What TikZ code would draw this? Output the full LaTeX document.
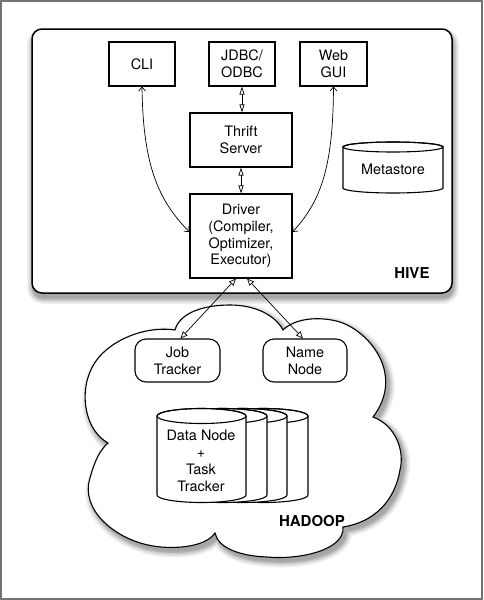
\documentclass[tikz,border=0pt]{standalone}
\usepackage{fontspec}
\setmainfont{TeX Gyre Heros}
\usetikzlibrary{arrows.meta}
\newcommand\mycyl[5]{%
  \pgfmathsetmacro\cx{(#1+#2)/2}\pgfmathsetmacro\rx{(#2-#1)/2}%
  \filldraw[fill=white, line width=1.1pt] (#1,#3) -- (#1,#4)
    .. controls (#1,#4+0.5523*#5) and (\cx-0.5523*\rx,#4+#5) .. (\cx,#4+#5)
    .. controls (\cx+0.5523*\rx,#4+#5) and (#2,#4+0.5523*#5) .. (#2,#4)
    -- (#2,#3)
    .. controls (#2,#3-0.5523*#5) and (\cx+0.5523*\rx,#3-#5) .. (\cx,#3-#5)
    .. controls (\cx-0.5523*\rx,#3-#5) and (#1,#3-0.5523*#5) .. (#1,#3) -- cycle;
  \draw[line width=1.1pt] (\cx,#3) ellipse [x radius=\rx, y radius=#5];
}
\def\cloudpath{(175,330) .. controls (180,312) and (205,305) .. (230,305)
 .. controls (255,305) and (275,315) .. (283,330)
 .. controls (295,318) and (320,316) .. (340,322)
 .. controls (370,332) and (405,375) .. (373,417)
 .. controls (395,425) and (405,450) .. (400,470)
 .. controls (395,500) and (375,522) .. (343,527)
 .. controls (345,550) and (300,560) .. (267,557)
 .. controls (240,556) and (218,548) .. (215,533)
 .. controls (205,548) and (170,550) .. (148,545)
 .. controls (115,538) and (80,510) .. (90,478)
 .. controls (95,460) and (100,450) .. (108,443)
 .. controls (85,430) and (80,395) .. (90,372)
 .. controls (100,345) and (140,325) .. (175,330) -- cycle}
\begin{document}
\begin{tikzpicture}[x=1pt,y=-1pt,
  txt/.style={font=\fontsize{14.4}{16.8}\selectfont, align=center, inner sep=0pt},
  box/.style={txt, draw, line width=1.1pt, fill=white},
  rbox/.style={box, rounded corners=11pt},
  lbl/.style={font=\fontsize{15}{18}\selectfont\bfseries, inner sep=0pt},
  barb/.style={line width=0.7pt, {Straight Barb[length=4pt,width=7pt]}-{Straight Barb[length=4pt,width=7pt]}},
  dbl/.style={line width=0.7pt, {Triangle[open,length=8pt,width=5pt]}-{Triangle[open,length=8pt,width=5pt]}},
  tri/.style={line width=0.7pt, {Triangle[open,length=7pt,width=6pt]}-{Triangle[open,length=7pt,width=6pt]}},
]
\useasboundingbox (0,0) rectangle (483,600);
\draw[black!55, line width=2pt] (1,1) rectangle (482,599);
% HIVE container with soft shadow
\foreach \w/\c in {12/6,9/12,6/20,3/30}{
  \draw[line width=\w pt, black!\c, rounded corners=10pt, shift={(1,5)}] (32,29) rectangle (452,293);}
\fill[black!35, rounded corners=10pt, shift={(1,5)}] (32,29) rectangle (452,293);
\filldraw[fill=white, line width=1.5pt, rounded corners=10pt] (32,29) rectangle (452,293);
% HADOOP cloud with soft shadow
\foreach \w/\c in {12/6,9/12,6/20,3/30}{
  \draw[line width=\w pt, black!\c, shift={(3,4)}] \cloudpath;}
\fill[black!35, shift={(3,4)}] \cloudpath;
\filldraw[fill=white, line width=1.1pt] \cloudpath;
% HIVE components
\node[box, minimum width=66pt, minimum height=44pt] (cli) at (142,64) {CLI};
\node[box, minimum width=66pt, minimum height=44pt] (jdbc) at (242,64) {JDBC/\\ODBC};
\node[box, minimum width=67pt, minimum height=44pt] (web) at (333.5,64) {Web\\GUI};
\node[box, minimum width=102pt, minimum height=54pt] (thrift) at (241,140) {Thrift\\Server};
\node[box, minimum width=102pt, minimum height=84pt] (drv) at (241,236) {Driver\\(Compiler,\\Optimizer,\\Executor)};
\mycyl{343}{443}{147}{188}{5}
\node[txt] (meta) at (393,169) {Metastore};
\node[lbl] (hive) at (412,273) {HIVE};
% HADOOP components
\node[rbox, minimum width=85pt, minimum height=43pt] (jt) at (177.5,360.5) {Job\\Tracker};
\node[rbox, minimum width=84pt, minimum height=43pt] (nn) at (305,360.5) {Name\\Node};
\mycyl{219}{308}{416}{495}{7.5}
\mycyl{198}{287}{416}{495}{7.5}
\mycyl{178}{267}{416}{495}{7.5}
\mycyl{157}{246}{416}{495}{7.5}
\node[txt] (dn) at (201,461) {Data Node\\+\\Task\\Tracker};
\node[lbl] (hadoop) at (312,521) {HADOOP};
% connectors
\draw[barb] (cli.south) .. controls (143,165) and (158,200) .. ([yshift=4pt]drv.west);
\draw[barb] (web.south) .. controls (333,165) and (322,200) .. ([yshift=4pt]drv.east);
\draw[dbl] (jdbc.south) -- (jdbc.south |- thrift.north);
\draw[dbl] (thrift.south) -- (drv.north);
\draw[tri] ([xshift=-5pt]drv.south) -- ([xshift=3pt]jt.north);
\draw[tri] ([xshift=6pt]drv.south) -- ([xshift=-2pt]nn.north);
\end{tikzpicture}
\end{document}
